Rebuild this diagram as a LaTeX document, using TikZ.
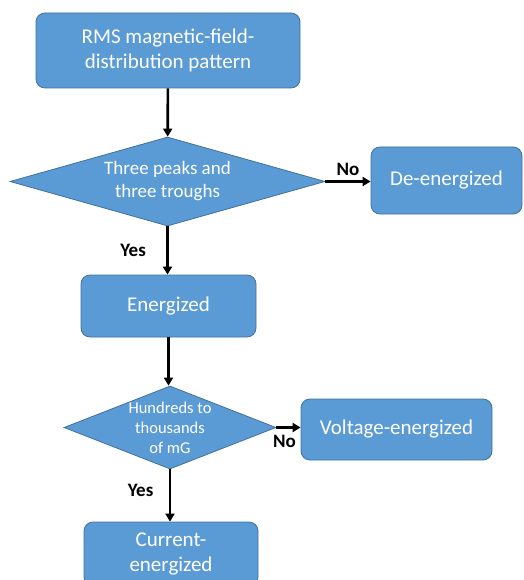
\documentclass[tikz,border=0pt]{standalone}
\usepackage{fontspec}
\setmainfont{Carlito}
\usetikzlibrary{arrows.meta, positioning, shapes.geometric}
\definecolor{boxblue}{HTML}{5B9BD5}
\definecolor{boxline}{HTML}{41719C}

\begin{document}
\begin{tikzpicture}[
      box/.style={rectangle, rounded corners=9pt, draw=boxline, fill=boxblue, text=white, align=center, line width=0.8pt, font=\fontsize{21}{25}\selectfont},
      decision/.style={diamond, draw=boxline, fill=boxblue, inner sep=0pt, line width=0.8pt},
      inside/.style={text=white, align=center},
      arrow/.style={-{Triangle[length=8pt, width=9pt]}, line width=2.6pt},
      answer/.style={font=\bfseries\fontsize{19}{22}\selectfont},
      x=1pt, y=-1pt
    ]
    \useasboundingbox (0,0) rectangle (523,580);
    \node[box, minimum width=264pt, minimum height=75pt] (pattern) at (168,50.5) {RMS magnetic-field-\\distribution pattern};
    \node[decision, minimum width=315pt, minimum height=89pt,
          label={[inside, font=\fontsize{19}{23}\selectfont]center:{Three peaks and\\three troughs}}] (peaks) at (167.5,181.5) {};
    \node[box, minimum width=151pt, minimum height=67pt] (deenergized) at (446.5,180.5) {De-energized};
    \node[box, minimum width=175pt, minimum height=62pt] (energized) at (168.5,306) {Energized};
    \node[decision, minimum width=212pt, minimum height=83pt,
          label={[inside, font=\fontsize{16.5}{20}\selectfont]center:{Hundreds to\\thousands\\of mG}}] (hundreds) at (170,427.5) {};
    \node[box, minimum width=191pt, minimum height=61pt] (voltage) at (396.5,429.5) {Voltage-energized};
    \node[box, minimum width=174pt, minimum height=64pt] (current) at (171,554) {Current-\\energized};

    \draw[arrow] (pattern) -- (peaks);
    \draw[arrow] (peaks.east) -- node[answer, above=1pt] (no1) {No} (deenergized.west |- peaks.east);
    \draw[arrow] (peaks.south) -- node[answer, left=17pt] (yes1) {Yes} (peaks.south |- energized.north);
    \draw[arrow] (energized.south) -- (energized.south |- hundreds.north);
    \draw[arrow] (hundreds.east) -- node[answer, below=3pt, xshift=-4pt] (no2) {No} (voltage.west |- hundreds.east);
    \draw[arrow] (hundreds.south) -- node[answer, left=12pt, yshift=5pt] (yes2) {Yes} (hundreds.south |- current.north);
  \end{tikzpicture}
\end{document}
